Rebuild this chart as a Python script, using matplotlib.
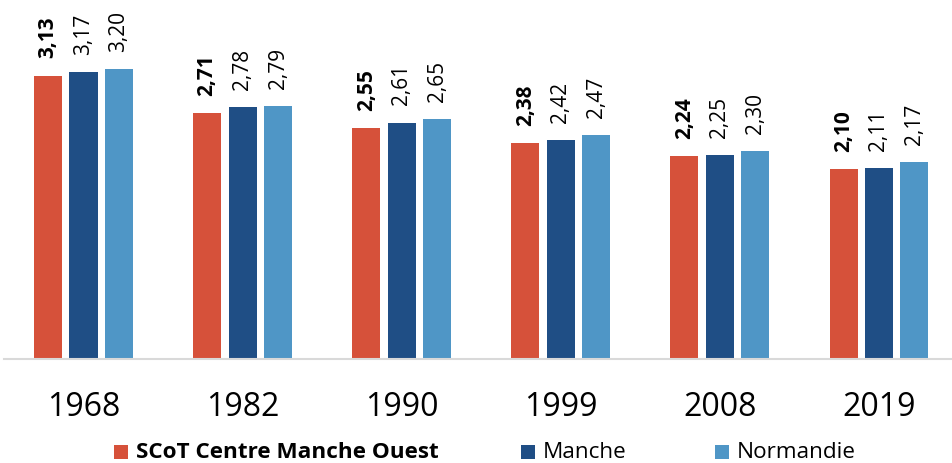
import matplotlib
matplotlib.use("Agg")
import matplotlib.pyplot as plt
import numpy as np
from matplotlib.patches import Rectangle

years = ["1968", "1982", "1990", "1999", "2008", "2019"]
scot = [3.13, 2.71, 2.55, 2.38, 2.24, 2.10]
manche = [3.17, 2.78, 2.61, 2.42, 2.25, 2.11]
normandie = [3.20, 2.79, 2.65, 2.47, 2.30, 2.17]
series_names = ["SCoT Centre Manche Ouest", "Manche", "Normandie"]
colors = ["#D6513A", "#1F4E85", "#4F96C6"]

plt.rcParams['font.family'] = ['Open Sans', 'DejaVu Sans']

W, H = 952, 464
fig = plt.figure(figsize=(W / 100, H / 100), dpi=100)
base_y = 359.5
ax = fig.add_axes([3.95 / W, 1 - base_y / H, 954.6 / W, 352.6 / H])

x = np.arange(len(years))
w = 0.176
off = 0.223
for i, (vals, c) in enumerate(zip([scot, manche, normandie], colors)):
    xs = x + (i - 1) * off
    ax.bar(xs, vals, width=w, color=c, zorder=2)
    for xi, v in zip(xs, vals):
        ax.annotate(f"{v:.2f}".replace(".", ","), (xi, v), xytext=(0, 13),
                    textcoords="offset points", rotation=90, ha="center", va="bottom",
                    fontsize=15, fontweight="bold" if i == 0 else "normal", color="black")

ax.set_xlim(-0.5, len(years) - 0.5)
ax.set_ylim(0, 3.9)
ax.set_yticks([])
ax.set_xticks(x)
ax.set_xticklabels(years, fontsize=23)
ax.tick_params(axis="x", length=0, pad=23)
for s in ["top", "right", "left"]:
    ax.spines[s].set_visible(False)
ax.spines["bottom"].set_color("#D9D9D9")
ax.spines["bottom"].set_linewidth(1.5)

# legend, drawn entry by entry at the reference positions (pixels)
legend_sq_x = [114, 521, 715]
for name, c, sx, i in zip(series_names, colors, legend_sq_x, range(3)):
    fig.patches.append(Rectangle((sx / W, (H - 460) / H), 14 / W, 14 / H,
                                 transform=fig.transFigure, facecolor=c, edgecolor="none"))
    fig.text((sx + 22) / W, 0.002, name, ha="left", va="bottom",
             fontsize=16.2, fontweight="bold" if i == 0 else "normal", color="black")

fig.savefig("out.png", dpi=100)
